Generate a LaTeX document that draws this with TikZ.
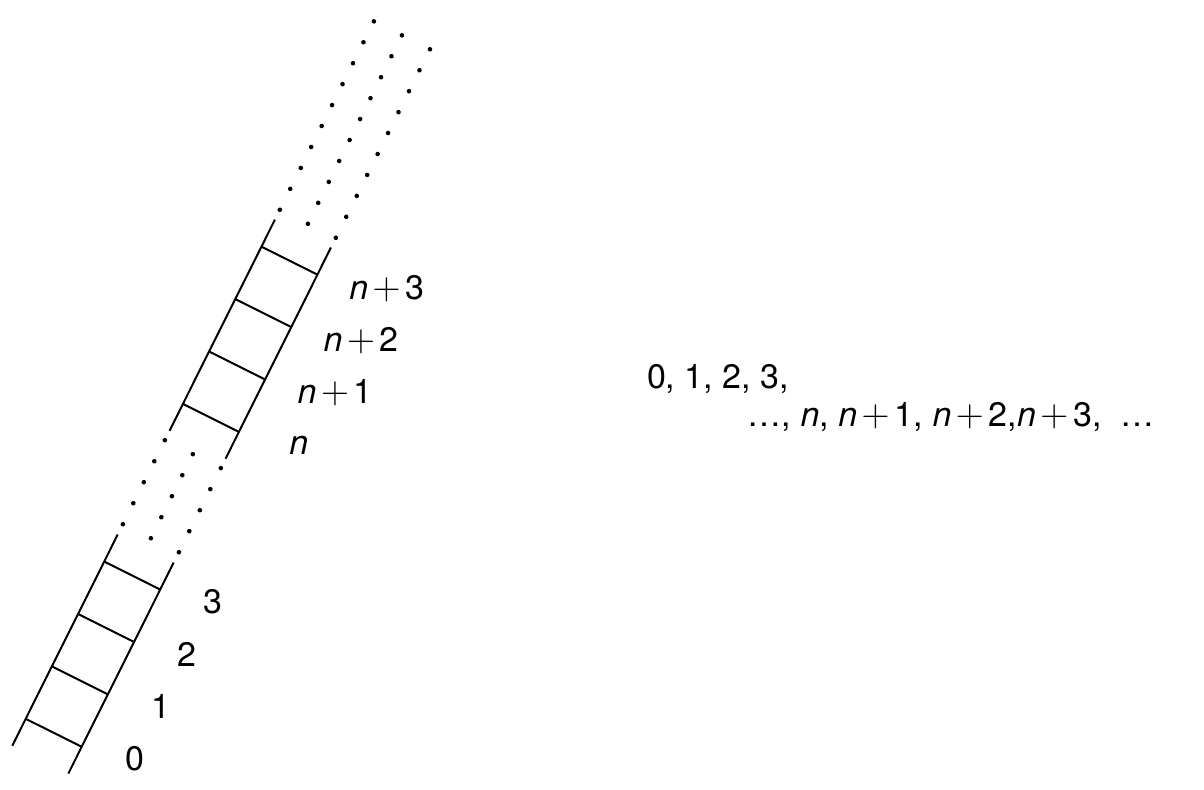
\documentclass[tikz,border=0pt]{standalone}
\usepackage{graphicx}
\usepackage{fontspec}
\setmainfont{TeX Gyre Heros}
\newcommand{\nv}{\textit{n}}
\newcommand{\pl}{\hspace{0.13em}\scalebox{1.12}{${+}$}\hspace{0.15em}}
\begin{document}
\begin{tikzpicture}[x=0.5pt,y=0.5pt,line width=1pt,
    lbl/.style={inner sep=0pt,font=\fontsize{17}{20}\selectfont},
    dot/.style={fill=black,draw=none}]
    \useasboundingbox (0,0) rectangle (1204,790);
    % ladder, drawn along its own axis
    \begin{scope}[shift={(12.3,44.3)},rotate=-26.53]
        \draw (0,0) -- (0,236);
        \draw (62.6,0) -- (62.6,236);
        \draw (0,352) -- (0,588);
        \draw (62.6,352) -- (62.6,588);
        \foreach \k in {0,...,3} {
            \draw (0,{30+58.6*\k}) -- (62.6,{30+58.6*\k});
            \draw (0,{382+58.6*\k}) -- (62.6,{382+58.6*\k});
        }
        \foreach \x in {0,31.3,62.6} {
            \foreach \k in {0,...,4}
                \fill[dot] (\x,{247.5+23.5*\k}) circle (2.3);
            \foreach \k in {0,...,9}
                \fill[dot] (\x,{599+23.4*\k}) circle (2.3);
        }
    \end{scope}
    \node[lbl,anchor=base] (r0) at (135,19.3) {0};
    \node[lbl,anchor=base] (r1) at (161,71) {1};
    \node[lbl,anchor=base] (r2) at (186.7,123.3) {2};
    \node[lbl,anchor=base] (r3) at (212.7,176.7) {3};
    \node[lbl,anchor=base west] (rn) at (288.3,335) {\nv};
    \node[lbl,anchor=base west] (rn1) at (296.7,386) {\nv\pl1};
    \node[lbl,anchor=base west] (rn2) at (322.7,438.3) {\nv\pl2};
    \node[lbl,anchor=base west] (rn3) at (348.3,490.7) {\nv\pl3};
    \node[lbl,anchor=base west] (seqa) at (646,401.7) {0, 1, 2, 3,};
    \node[lbl,anchor=base west] (seqb) at (746.7,363.3) {\ldots, \nv, \nv\pl1, \nv\pl2,\nv\pl3,\ \ \ldots};
\end{tikzpicture}
\end{document}
